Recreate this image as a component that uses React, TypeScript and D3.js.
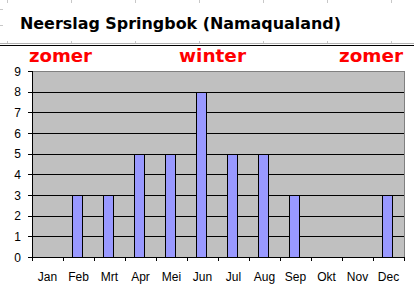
import React from "react";
import * as d3 from "d3";

const months = ["Jan", "Feb", "Mrt", "Apr", "Mei", "Jun", "Jul", "Aug", "Sep", "Okt", "Nov", "Dec"];
const rainfall = [0, 3, 3, 5, 5, 8, 5, 5, 3, 0, 0, 3];
const yTicks = [0, 1, 2, 3, 4, 5, 6, 7, 8, 9];
const title = "Neerslag Springbok (Namaqualand)";
const seasonLabels = ["zomer", "winter", "zomer"];

const W = 414;
const H = 298;
const left = 32;
const right = 404;
const top = 71;
const bottom = 257;

export default function App() {
  const x = d3.scaleBand<string>().domain(months).range([left, right]).paddingInner(0.68).paddingOuter(0.34).align(0.45);
  const xc = d3.scaleBand<string>().domain(months).range([left, right]).padding(0);
  const y = d3.scaleLinear().domain([0, 9]).range([bottom, top]);
  const sheetCols = [7, 71, 135, 199, 263, 327, 391];
  const seasonX = [29, 179, 339];
  const seasonW = [63, 67, 64];
  const font = "'Liberation Sans', Arial, sans-serif";
  return (
    <svg width={W} height={H} style={{ position: "absolute", left: 0, top: 0, background: "#fff" }}>
      {/* spreadsheet cell borders */}
      {sheetCols.map((c) => (
        <line key={c} x1={c + 0.5} x2={c + 0.5} y1={0} y2={43} stroke="#c8c8c8" />
      ))}
      <line x1={0} x2={3} y1={9.5} y2={9.5} stroke="#c8c8c8" />
      <line x1={0} x2={3} y1={25.5} y2={25.5} stroke="#c8c8c8" />
      <rect x={3} y={3} width={W - 3} height={38} fill="#fff" />
      <line x1={0} x2={W} y1={43.5} y2={43.5} stroke="#b0b0b0" />
      <line x1={0} x2={W} y1={45.5} y2={45.5} stroke="#000" />
      <text x={20} y={29} fontFamily="'DejaVu Sans', Verdana, sans-serif" fontWeight="bold" fontSize={16} textLength={321} lengthAdjust="spacingAndGlyphs" fill="#000">
        {title}
      </text>
      {seasonLabels.map((s, i) => (
        <text key={i} x={seasonX[i]} y={62} fontFamily="'DejaVu Sans', Verdana, sans-serif" fontWeight="bold" fontSize={18} textLength={seasonW[i]} lengthAdjust="spacingAndGlyphs" fill="#ff0000">
          {s}
        </text>
      ))}
      {/* plot area */}
      <rect x={left} y={top} width={right - left} height={bottom - top} fill="#c0c0c0" />
      {yTicks.slice(1, -1).map((t) => (
        <line key={t} x1={left} x2={right} y1={Math.round(y(t)) + 0.5} y2={Math.round(y(t)) + 0.5} stroke="#000" />
      ))}
      <line x1={left} x2={right + 0.5} y1={Math.round(y(9)) + 0.5} y2={Math.round(y(9)) + 0.5} stroke="#808080" />
      <line x1={right + 0.5} x2={right + 0.5} y1={Math.round(y(9))} y2={bottom} stroke="#808080" />
      {months.map((m, i) => {
        const yy = Math.round(y(rainfall[i]));
        const x0 = Math.round(x(m)!);
        const x1 = Math.round(x(m)! + x.bandwidth());
        if (rainfall[i] === 0) return null;
        return <rect key={m} x={x0 + 0.5} y={yy + 0.5} width={x1 - x0} height={bottom - yy} fill="#9999ff" stroke="#000" />;
      })}
      {/* axes */}
      <line x1={left + 0.5} x2={left + 0.5} y1={top} y2={bottom + 4} stroke="#000" />
      <line x1={left} x2={right + 1} y1={bottom + 0.5} y2={bottom + 0.5} stroke="#000" />
      {yTicks.map((t) => (
        <g key={t}>
          <line x1={left - 4} x2={left} y1={Math.round(y(t)) + 0.5} y2={Math.round(y(t)) + 0.5} stroke="#000" />
          <text x={21} y={y(t) + 4.5} textAnchor="end" fontFamily={font} fontSize={12} fill="#000">
            {t}
          </text>
        </g>
      ))}
      {months.map((m) => (
        <text key={m} x={xc(m)! + xc.bandwidth() / 2} y={281} textAnchor="middle" fontFamily={font} fontSize={12} fill="#000">
          {m}
        </text>
      ))}
      {d3.range(13).map((i) => {
        const xx = Math.round(left + i * xc.step()) + 0.5;
        return <line key={i} x1={xx} x2={xx} y1={bottom} y2={bottom + 4} stroke="#000" />;
      })}
    </svg>
  );
}
